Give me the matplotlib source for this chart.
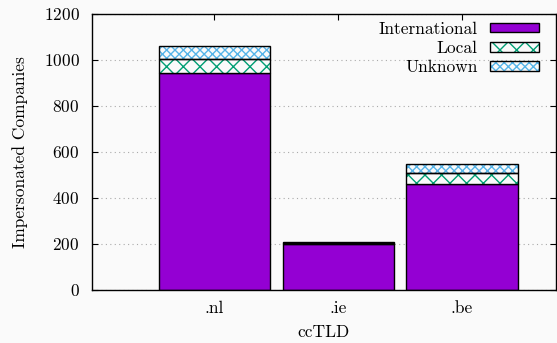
import numpy as np
import matplotlib
matplotlib.use("Agg")
import matplotlib.pyplot as plt
from matplotlib.patches import Patch
from matplotlib.legend_handler import HandlerTuple

plt.rcParams['font.family'] = ['cmr10', 'DejaVu Serif']
plt.rcParams['axes.formatter.use_mathtext'] = True
plt.rcParams['hatch.linewidth'] = 1.0

tlds = ['.nl', '.ie', '.be']
international = [942, 198, 460]
local = [61, 5, 50]
unknown = [56, 5, 37]

c_int = '#9400d3'
c_loc = '#009e73'
c_unk = '#56b4e9'
bg = '#fafafa'
fs = 12.5

fig = plt.figure(figsize=(5.57, 3.43), dpi=100, facecolor=bg)
ax = fig.add_axes([92/557, 53/343, 464/557, 276/343], facecolor=bg)

x = np.arange(len(tlds))
w = 0.9
intl = np.array(international)
loc = np.array(local)
unk = np.array(unknown)

ax.bar(x, intl, w, color=c_int, edgecolor='black', linewidth=1.0, zorder=2)
ax.bar(x, loc, w, bottom=intl, color=bg, edgecolor=c_loc, hatch='xx', linewidth=0, zorder=2)
ax.bar(x, loc, w, bottom=intl, fill=False, edgecolor='black', linewidth=1.0, zorder=3)
ax.bar(x, unk, w, bottom=intl + loc, color=bg, edgecolor=c_unk, hatch='xxxx', linewidth=0, zorder=2)
ax.bar(x, unk, w, bottom=intl + loc, fill=False, edgecolor='black', linewidth=1.0, zorder=3)

ax.set_xlim(-0.99, 2.76)
ax.set_ylim(0, 1200)
ax.set_yticks(np.arange(0, 1201, 200))
ax.set_xticks(x)
ax.set_xticklabels(tlds)
ax.tick_params(direction='in', top=True, right=True, labelsize=fs, length=4, width=0.8)
ax.tick_params(axis='x', pad=8)
ax.tick_params(axis='y', pad=9)
ax.yaxis.grid(True, linestyle=(0, (1, 3)), color='#aaaaaa', linewidth=0.8, zorder=0)
ax.set_axisbelow(True)
for s in ax.spines.values():
    s.set_linewidth(1.0)

ax.set_xlabel('ccTLD', fontsize=fs, labelpad=6)
ax.set_ylabel('Impersonated Companies', fontsize=fs, labelpad=11)

border = lambda: Patch(fill=False, edgecolor='black', linewidth=1.0)
handles = [
    Patch(facecolor=c_int, edgecolor='black', linewidth=1.0),
    (Patch(facecolor=bg, edgecolor=c_loc, hatch='xx', linewidth=0), border()),
    (Patch(facecolor=bg, edgecolor=c_unk, hatch='xxxx', linewidth=0), border()),
]
leg = ax.legend(handles, ['International', 'Local', 'Unknown'], loc='upper right',
                frameon=False, markerfirst=False, fontsize=fs, handlelength=2.8,
                handleheight=0.45, labelspacing=0.22, borderaxespad=0.2,
                handletextpad=0.7, bbox_to_anchor=(0.985, 1.01),
                handler_map={tuple: HandlerTuple(ndivide=1, pad=0)})
for t in leg.get_texts():
    t.set_ha('right')

fig.savefig('out.png', dpi=100, facecolor=bg)
